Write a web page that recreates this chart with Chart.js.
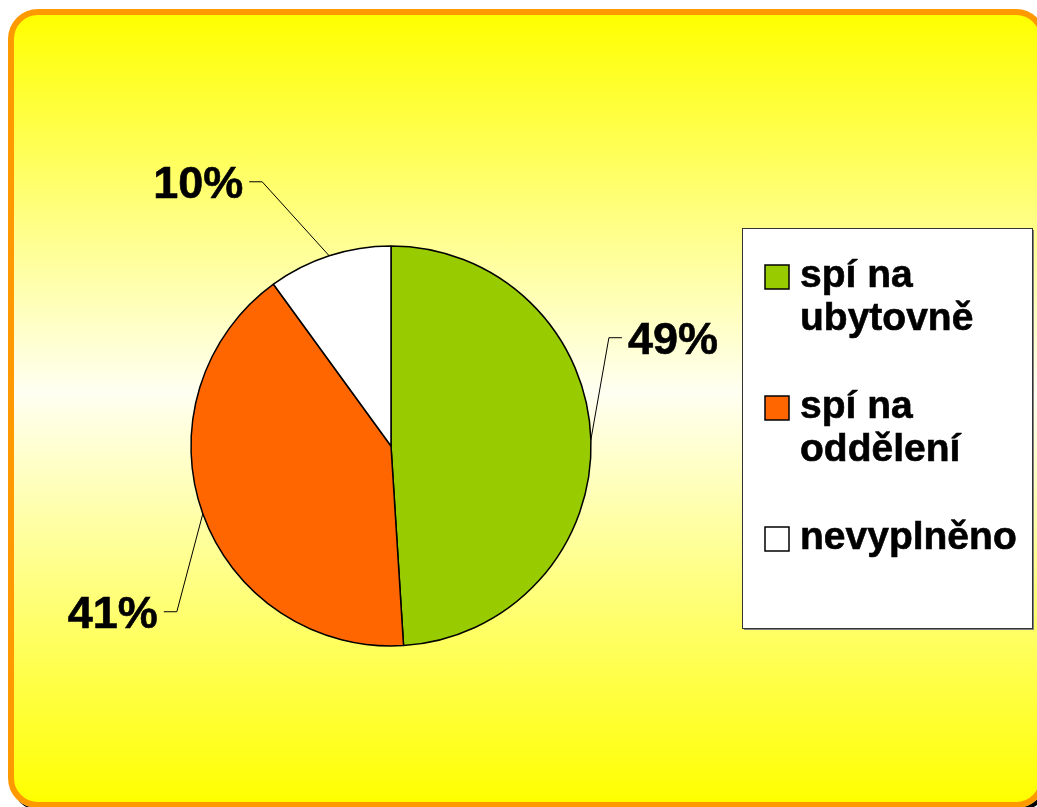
<!DOCTYPE html>
<html>
<head>
<meta charset="utf-8">
<script src="https://cdn.jsdelivr.net/npm/chart.js@4.4.0/dist/chart.umd.min.js"></script>
<style>
  html, body { margin: 0; padding: 0; width: 1037px; height: 807px; overflow: hidden; background: #fff; }
  #frame {
    position: absolute; left: 8px; top: 9px; width: 1026px; height: 787px;
    border: 6px solid #ff9900; border-radius: 30px;
    background: linear-gradient(to bottom, #ffff00 0%, #fffff2 48%, #ffff00 100%);
    box-shadow: 3px 3px 0 #000;
  }
  #chart { position: absolute; left: 0; top: 0; }
</style>
</head>
<body>
<div id="frame"></div>
<canvas id="chart" width="1037" height="807"></canvas>
<script>
const categories = ['spí na ubytovně', 'spí na oddělení', 'nevyplněno'];
const shares = [49, 41, 10];
const sliceColors = ['#99cc00', '#ff6600', '#ffffff'];

const labelFont = 'bold 45px "Liberation Sans", Arial, sans-serif';
const legendFont = 'bold 39px "Liberation Sans", Arial, sans-serif';

// fill + hairline stroke so the bold text reads a little heavier
function heavyText(ctx, txt, x, y) {
  ctx.fillText(txt, x, y);
  ctx.lineWidth = 0.6;
  ctx.strokeStyle = '#000';
  ctx.strokeText(txt, x, y);
}

// percentage labels with bent leader lines
const pieLabels = {
  id: 'pieLabels',
  afterDatasetsDraw(chart, args, opts) {
    const ctx = chart.ctx;
    const meta = chart.getDatasetMeta(0);
    const values = chart.data.datasets[0].data;
    const total = values.reduce((a, b) => a + b, 0);
    meta.data.forEach((arc, i) => {
      const p = arc.getProps(['x', 'y', 'startAngle', 'endAngle', 'outerRadius'], true);
      const mid = (p.startAngle + p.endAngle) / 2;
      const ex = p.x + Math.cos(mid) * p.outerRadius;
      const ey = p.y + Math.sin(mid) * p.outerRadius;
      const bx = ex + opts.elbows[i][0];
      const by = ey + opts.elbows[i][1];
      const side = Math.cos(mid) >= 0 ? 1 : -1;
      const tx = bx + side * 13;
      ctx.save();
      ctx.strokeStyle = '#000';
      ctx.lineWidth = 1;
      ctx.beginPath();
      ctx.moveTo(ex, ey);
      ctx.lineTo(bx, by);
      ctx.lineTo(tx, by);
      ctx.stroke();
      ctx.font = labelFont;
      ctx.fillStyle = '#000';
      ctx.textAlign = side > 0 ? 'left' : 'right';
      ctx.textBaseline = 'alphabetic';
      heavyText(ctx, Math.round(values[i] / total * 100) + '%', tx + side * 6, by + 16);
      ctx.restore();
    });
  }
};

// boxed legend on the right, long names wrapped onto two lines
const boxLegend = {
  id: 'boxLegend',
  afterDraw(chart, args, opts) {
    const ctx = chart.ctx;
    const ds = chart.data.datasets[0];
    const b = opts.box;
    ctx.save();
    ctx.fillStyle = '#808080';
    ctx.fillRect(b.x + 2, b.y + 2, b.w, b.h);
    ctx.fillStyle = '#fff';
    ctx.fillRect(b.x, b.y, b.w, b.h);
    ctx.strokeStyle = '#333';
    ctx.lineWidth = 1;
    ctx.strokeRect(b.x + 0.5, b.y + 0.5, b.w, b.h);

    ctx.font = legendFont;
    ctx.textAlign = 'left';
    ctx.textBaseline = 'alphabetic';
    let baseline = b.y + 59;
    chart.data.labels.forEach((name, i) => {
      const lines = [];
      let cur = '';
      name.split(' ').forEach(w => {
        const t = cur ? cur + ' ' + w : w;
        if (cur && ctx.measureText(t).width > opts.maxText) { lines.push(cur); cur = w; }
        else cur = t;
      });
      lines.push(cur);

      ctx.fillStyle = ds.backgroundColor[i];
      ctx.fillRect(b.x + 23, baseline - 22, 24, 24);
      ctx.strokeStyle = '#000';
      ctx.lineWidth = 1.5;
      ctx.strokeRect(b.x + 23, baseline - 22, 24, 24);

      ctx.fillStyle = '#000';
      lines.forEach((ln, k) => heavyText(ctx, ln, b.x + 58, baseline + k * 43));
      baseline += (lines.length - 1) * 43 + 88;
    });
    ctx.restore();
  }
};

new Chart(document.getElementById('chart'), {
  type: 'pie',
  data: {
    labels: categories,
    datasets: [{
      data: shares,
      backgroundColor: sliceColors,
      borderColor: '#000',
      borderWidth: 1.5,
      radius: 200
    }]
  },
  options: {
    responsive: false,
    animation: false,
    layout: { padding: { left: 140, right: 395, top: 140, bottom: 55 } },
    plugins: {
      legend: { display: false },
      tooltip: { enabled: false },
      pieLabels: { elbows: [[18, -102], [-26, 98], [-67, -74]] },
      boxLegend: { box: { x: 742, y: 228, w: 290, h: 400 }, maxText: 225 }
    }
  },
  plugins: [pieLabels, boxLegend]
});
</script>
</body>
</html>
